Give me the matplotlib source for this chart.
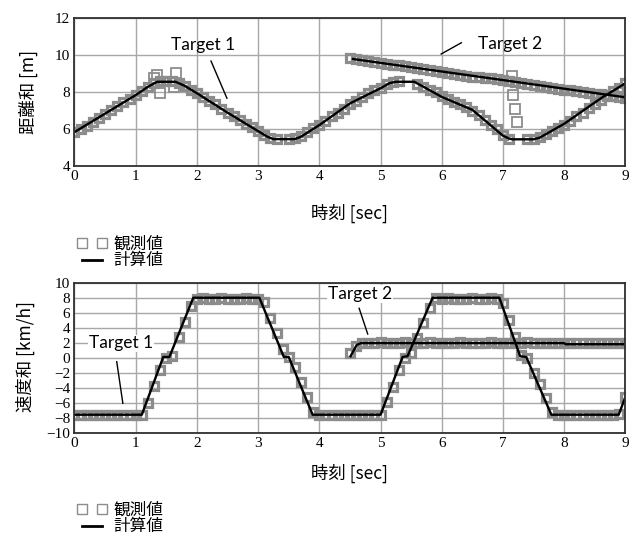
import numpy as np
import matplotlib.pyplot as plt
from matplotlib.lines import Line2D

# time base of the observed samples (0.1 s)
t_obs = np.round(np.arange(0, 91) * 0.1, 2)
t_obs2 = np.round(np.arange(45, 91) * 0.1, 2)

# ---- distance sum [m] ----
dist1_obs = [5.85, 6.0, 6.2, 6.4, 6.6, 6.85, 7.05, 7.25, 7.45, 7.65,
             7.85, 8.05, 8.3, 8.5, 8.6, 8.6, 8.6, 8.5, 8.35, 8.15,
             7.95, 7.75, 7.55, 7.35, 7.1, 6.9, 6.7, 6.5, 6.3, 6.1,
             5.9, 5.7, 5.55, 5.5, np.nan, 5.5, 5.55, 5.65, 5.85, 6.05,
             6.25, 6.45, 6.7, 6.9, 7.1, 7.35, 7.55, 7.75, 7.95, 8.1,
             8.25, 8.45, 8.55, 8.6, np.nan, np.nan, 8.45, 8.3, 8.15, 8.0,
             7.8, 7.65, 7.5, 7.35, 7.2, 7.0, 6.75, 6.5, 6.25, 6.0,
             5.7, 5.5, np.nan, np.nan, 5.45, 5.5, 5.6, 5.75, 5.9, 6.05,
             6.25, 6.45, 6.7, 6.9, 7.15, 7.35, 7.6, 7.8, 8.05, 8.25,
             8.5]
dist2_obs = [9.85, 9.8, 9.75, 9.7, 9.65, 9.6, 9.55, 9.5, 9.45, 9.4,
             9.35, 9.3, 9.25, 9.2, 9.15, 9.1, 9.05, 9.0, 8.95, 8.9,
             8.85, 8.85, 8.8, 8.75, 8.7, 8.65, 8.6, 8.55, 8.5, 8.45,
             8.4, 8.35, 8.3, 8.25, 8.2, 8.15, 8.1, 8.05, 8.0, 7.95,
             7.9, 7.9, 7.85, 7.8, 7.75, 7.7]
# stray observations
stray_t = [1.3, 1.34, 1.4, 1.62, 1.66, 7.15, 7.17, 7.2, 7.23]
stray_d = [8.75, 8.94, 7.98, 8.27, 9.05, 8.9, 7.85, 7.08, 6.4]

dist1_t = [0.0, 0.5, 1.0, 1.2, 1.35, 1.65, 1.8, 2.0, 2.5, 3.0, 3.15, 3.25,
           3.6, 3.7, 4.0, 4.5, 5.0, 5.15, 5.25, 5.55, 5.7, 6.0, 6.5, 7.0,
           7.1, 7.15, 7.5, 7.6, 8.0, 8.6, 9.0]
dist1_calc = [5.85, 6.85, 7.85, 8.3, 8.57, 8.57, 8.35, 7.95, 6.9, 5.9, 5.6,
              5.47, 5.47, 5.6, 6.23, 7.4, 8.22, 8.5, 8.57, 8.57, 8.3, 7.75,
              7.05, 5.65, 5.5, 5.46, 5.46, 5.55, 6.3, 7.68, 8.49]
dist2_t = [4.55, 9.0]
dist2_calc = [9.8, 7.73]

# ---- speed sum [km/h] ----
vel1_obs = [-7.6, -7.7, -7.6, -7.6, -7.7, -7.6, -7.6, -7.7, -7.6, -7.6,
            -7.6, -7.6, -6.0, -3.8, -1.6, 0.0, 0.2, 2.7, 4.8, 6.9,
            7.8, 7.9, 7.8, 7.8, 7.9, 7.8, 7.8, 7.8, 7.9, 7.8,
            7.8, 7.4, 5.3, 3.3, 1.2, 0.1, -1.3, -3.3, -5.2, -7.2,
            -7.6, -7.6, -7.7, -7.6, -7.6, -7.6, -7.7, -7.6, -7.6, -7.6,
            -7.6, -5.9, -3.9, -1.7, 0.0, 0.6, 2.6, 4.6, 6.6, 7.9,
            7.8, 7.9, 7.8, 7.8, 7.8, 7.9, 7.8, 7.8, 7.9, 7.8,
            7.3, 5.0, 2.7, 0.3, 0.0, -2.0, -3.5, -5.4, -7.3, -7.6,
            -7.6, -7.6, -7.7, -7.6, -7.6, -7.6, -7.7, -7.6, -7.6, -7.5,
            -5.2]
vel2_obs = [0.6, 1.6, 1.9, 2.0, 2.0, 2.1, 2.0, 2.0, 2.0, 2.1,
            2.0, 2.0, 2.0, 2.1, 2.0, 2.0, 2.0, 2.0, 2.1, 2.0,
            2.0, 2.0, 2.0, 2.1, 2.0, 2.0, 2.0, 2.0, 2.0, 2.1,
            2.0, 2.0, 2.0, 2.0, 2.0, 2.0, 1.9, 2.0, 2.0, 2.0,
            1.9, 2.0, 1.9, 2.0, 1.9, 2.0]

vel1_t = [0.0, 1.1, 1.45, 1.55, 1.94, 3.02, 3.42, 3.5, 3.89, 5.0, 5.36,
          5.44, 5.85, 6.94, 7.28, 7.38, 7.79, 8.89, 9.0]
vel1_calc = [-7.6, -7.6, 0.1, 0.1, 8.0, 8.0, 0.1, 0.1, -7.6, -7.6, 0.1,
             0.2, 8.0, 8.0, 0.2, 0.1, -7.6, -7.6, -5.2]
vel2_t = [4.51, 4.61, 4.68, 8.0, 8.02, 9.0]
vel2_calc = [0.2, 1.7, 1.95, 1.95, 1.8, 1.8]

jp = ['Noto Sans CJK JP', 'DejaVu Sans']
num_font = 'Liberation Serif'
obs_col = '#8c8c8c'
obs_kw = dict(ls='none', marker='s', ms=6.3, mfc='none', mec=obs_col, mew=2.3)
calc_kw = dict(color='black', lw=1.7)


def style_axes(ax, ylim, yticks):
    ax.set_xlim(0, 9)
    ax.set_ylim(*ylim)
    ax.set_xticks(range(10))
    ax.set_yticks(yticks)
    ax.grid(True, color='#a8a8a8', lw=1.0)
    ax.set_axisbelow(True)
    ax.tick_params(length=0, pad=3, labelsize=11)
    for lab in ax.get_xticklabels() + ax.get_yticklabels():
        lab.set_fontfamily(num_font)
    for sp in ax.spines.values():
        sp.set_color('#303030')
        sp.set_linewidth(1.3)


fig = plt.figure(figsize=(6.34, 5.37), dpi=100)
ax1 = fig.add_axes([0.1175, 0.6903, 0.869, 0.2756])
ax2 = fig.add_axes([0.1175, 0.1942, 0.869, 0.2793])

# top: distance
ax1.plot(t_obs, dist1_obs, **obs_kw)
ax1.plot(t_obs2, dist2_obs, **obs_kw)
ax1.plot(stray_t, stray_d, **dict(obs_kw, mew=1.3, ms=6.5))
ax1.plot(dist1_t, dist1_calc, **calc_kw)
ax1.plot(dist2_t, dist2_calc, **calc_kw)
style_axes(ax1, (4, 12), range(4, 13, 2))
ax1.text(2.1, 10.56, 'Target 1', fontsize=12.5, family='Lato', ha='center', va='center')
ax1.plot([2.23, 2.49], [9.69, 7.68], color='black', lw=1)
ax1.text(7.12, 10.61, 'Target 2', fontsize=12.5, family='Lato', ha='center', va='center')
ax1.plot([6.32, 5.99], [10.68, 10.07], color='black', lw=1)

# bottom: speed
ax2.plot(t_obs, vel1_obs, **obs_kw)
ax2.plot(t_obs2, vel2_obs, **obs_kw)
ax2.plot(vel1_t, vel1_calc, **calc_kw)
ax2.plot(vel2_t, vel2_calc, **calc_kw)
style_axes(ax2, (-10, 10), range(-10, 11, 2))
ax2.text(0.76, 1.92, 'Target 1', fontsize=12.5, family='Lato', ha='center', va='center',
         bbox=dict(fc='white', ec='none', pad=0.5))
ax2.plot([0.69, 0.79], [-0.53, -6.08], color='black', lw=1)
ax2.text(4.66, 8.49, 'Target 2', fontsize=12.5, family='Lato', ha='center', va='center',
         bbox=dict(fc='white', ec='none', pad=0.5))
ax2.plot([4.65, 4.79], [6.59, 3.16], color='black', lw=1)

xc = 0.1175 + 0.869 / 2
fig.text(xc, 1 - 213 / 537, '時刻 [sec]', family=jp, fontsize=12.5, ha='center', va='center')
fig.text(xc, 1 - 473 / 537, '時刻 [sec]', family=jp, fontsize=12.5, ha='center', va='center')
fig.text(28 / 634, 1 - 92 / 537, '距離和 [m]', family=jp, fontsize=12.5, rotation=90,
         ha='center', va='center')
fig.text(25 / 634, 1 - 357 / 537, '速度和 [km/h]', family=jp, fontsize=12.5, rotation=90,
         ha='center', va='center')

handles = [Line2D([], [], ls='none', marker='s', ms=6.5, mfc='none', mec=obs_col, mew=1.0),
           Line2D([], [], color='black', lw=2)]
for ytop in (1 - 227 / 537, 1 - 493 / 537):
    fig.legend(handles, ['観測値', '計算値'], loc='upper left', bbox_to_anchor=(0.108, ytop),
               frameon=False, numpoints=2, handlelength=1.8, handletextpad=0.4,
               labelspacing=0.0, borderpad=0, prop={'family': jp, 'size': 12})

fig.savefig('out.png', dpi=100)
